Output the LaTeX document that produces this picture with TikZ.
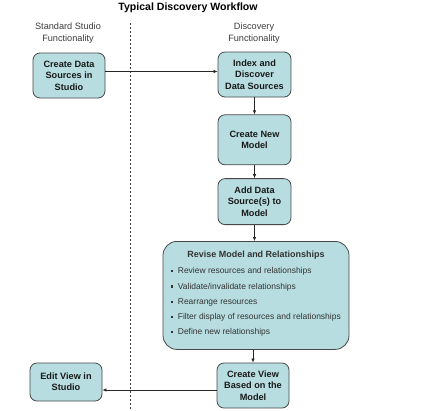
\documentclass[tikz,border=0pt]{standalone}
\usepackage{fontspec}
\setmainfont{Liberation Sans}
\usetikzlibrary{arrows.meta,positioning}
\definecolor{BoxFill}{RGB}{183,221,225}
\definecolor{EdgeGray}{RGB}{72,72,72}
\definecolor{LabelGray}{RGB}{60,60,60}
\newcommand\bul{\rule[1.6pt]{2.2pt}{2.2pt}\hspace{4.5pt}}

\begin{document}
\begin{tikzpicture}[x=1bp,y=-1bp,
  node distance=16bp,
  box/.style={draw=EdgeGray,fill=BoxFill,rounded corners=7bp,line width=0.8bp,
              align=center,inner sep=0pt,minimum width=73bp,minimum height=45bp,
              font=\fontsize{9.2}{11.4}\selectfont\bfseries,text=black!90},
  bigbox/.style={box,rounded corners=14bp,minimum width=186bp,minimum height=108bp,
                 font=\fontsize{8.5}{15.3}\selectfont,text=black!80},
  lbl/.style={align=center,inner sep=0pt,font=\fontsize{9.2}{11.7}\selectfont,text=LabelGray},
  arr/.style={-{Latex[length=4bp,width=3.5bp]},line width=0.7bp,draw=black!85},
  divider/.style={dash pattern=on 2bp off 2bp,line width=0.6bp,draw=black!75}]
  \useasboundingbox (0,0) rectangle (436,410);
  \node (title) [inner sep=0pt,font=\fontsize{10.6}{12}\selectfont\bfseries] at (188,8) {Typical Discovery Workflow};
  \node (stdlbl) [lbl] at (68,33) {Standard Studio\\Functionality};
  \node (disclbl) [lbl] at (254,33) {Discovery\\Functionality};
  \coordinate (divtop) at (130,23);
  \coordinate (divbot) at (130,410);
  \draw[divider] (divtop) -- (divbot);
  % studio side
  \node (create) [box,minimum width=72bp] at (69,75.5) {Create Data\\Sources in\\Studio};
  \node (editview) [box,minimum width=72bp,minimum height=38bp] at (66,382) {Edit View in\\Studio};
  % discovery side
  \node (index) [box] at (254.5,74.5) {Index and\\Discover\\Data Sources};
  \node (newmodel) [box,minimum height=50bp,below=17bp of index] {Create New\\Model};
  \node (addsrc) [box,minimum height=46bp,below=13bp of newmodel] {Add Data\\Source(s) to\\Model};
  \node (revise) [bigbox,below=16bp of addsrc,xshift=1.5bp] {%
    \textbf{\fontsize{9}{11}\selectfont Revise Model and Relationships}\\[0.8pt]
    \begin{tabular}[t]{@{}l@{}}
      \bul Review resources and relationships\\
      \bul Validate/invalidate relationships\\
      \bul Rearrange resources\\
      \bul Filter display of resources and relationships\\
      \bul Define new relationships
    \end{tabular}};
  \node (makeview) [box,minimum width=72bp] at (253,385.5) {Create View\\Based on the\\Model};
  \draw[arr] ([yshift=4bp]create.east) -- ([yshift=4bp]create.east -| index.west);
  \draw[arr] (index) -- (newmodel);
  \draw[arr] (newmodel) -- (addsrc);
  \draw[arr] (addsrc) -- (addsrc |- revise.north);
  \draw[arr] (revise.south -| makeview) -- (makeview);
  \draw[arr] ([yshift=-4.5bp]makeview.west) -- ([yshift=-4.5bp]makeview.west -| editview.east);
\end{tikzpicture}
\end{document}
